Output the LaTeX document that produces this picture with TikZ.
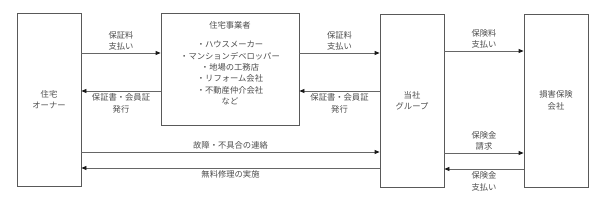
\documentclass[tikz,border=0pt]{standalone}
\usepackage{fontspec}
\newfontfamily\jpfont{Noto Sans CJK JP}
\usepackage{tikz}
\usetikzlibrary{arrows.meta,positioning}

\begin{document}
\begin{tikzpicture}[
  x=1pt, y=-1pt,
  font=\jpfont\fontsize{8.3}{11.3}\selectfont, text=black!70,
  party/.style={draw=black!65, line width=0.8pt, minimum width=64pt, minimum height=173pt, align=center, inner sep=0pt},
  biz/.style={draw=black!65, line width=0.8pt, minimum width=138pt, minimum height=112pt, inner sep=0pt},
  flow/.style={-{Triangle[length=5pt,width=4pt,color=black!90]}, draw=black!60, line width=0.8pt},
  lbl/.style={align=center, inner sep=2.5pt},
]
  \useasboundingbox (0,0) rectangle (604,209);
  % boxes
  \node[party] (owner) at (49,99.5) {住宅\\オーナー};
  \node[biz] (maker) at (230,69) {};
  \node[align=center] (makerlist) at (230,63) {住宅事業者\\[8.5pt]・ハウスメーカー\\・マンションデベロッパー\\・地場の工務店\\・リフォーム会社\\・不動産仲介会社\\など};
  \node[party] (group) at (412,100.5) {当社\\グループ};
  \node[party] (insurer) at (556,100.5) {損害保険\\会社};

  % owner <-> maker
  \draw[flow] (owner.east |- 0,53) -- node[lbl,above]{保証料\\支払い} (maker.west |- 0,53);
  \draw[flow] (maker.west |- 0,91) -- node[lbl,below]{保証書・会員証\\発行} (owner.east |- 0,91);
  % maker <-> group
  \draw[flow] (maker.east |- 0,53) -- node[lbl,above]{保証料\\支払い} (group.west |- 0,53);
  \draw[flow] (group.west |- 0,91) -- node[lbl,below]{保証書・会員証\\発行} (maker.east |- 0,91);
  % owner <-> group
  \draw[flow] (owner.east |- 0,152) -- node[lbl,above]{故障・不具合の連絡} (group.west |- 0,152);
  \draw[flow] (group.west |- 0,168) -- node[lbl,below]{無料修理の実施} (owner.east |- 0,168);
  % group <-> insurer
  \draw[flow] (group.east |- 0,51) -- node[lbl,above]{保険料\\支払い} (insurer.west |- 0,51);
  \draw[flow] (group.east |- 0,153) -- node[lbl,above]{保険金\\請求} (insurer.west |- 0,153);
  \draw[flow] (insurer.west |- 0,169) -- node[lbl,below]{保険金\\支払い} (group.east |- 0,169);
\end{tikzpicture}
\end{document}
